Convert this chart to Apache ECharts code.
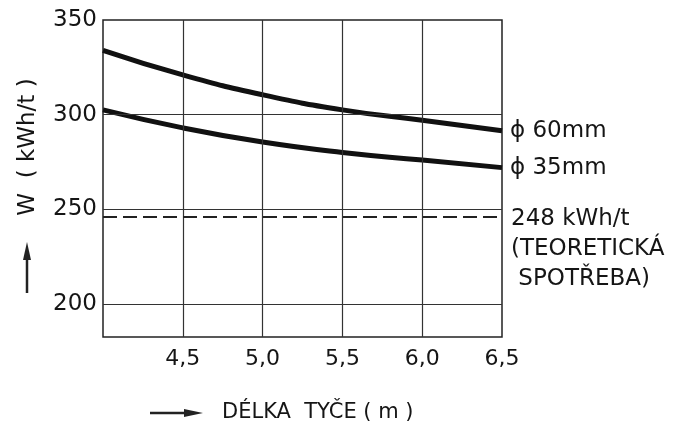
<!DOCTYPE html>
<html>
<head>
<meta charset="utf-8">
<script src="https://cdn.jsdelivr.net/npm/echarts@6/dist/echarts.min.js"></script>
<style>
  html, body { margin: 0; padding: 0; background: #fff; }
  #chart { width: 677px; height: 432px; }
</style>
</head>
<body>
<div id="chart"></div>
<script>
// rod length (m) and energy consumption W (kWh/t)
var lengths = [4.0, 4.5, 5.0, 5.5, 6.0, 6.5];
var w60 = [334, 321, 310.5, 302.5, 297, 291.5];
var w35 = [302.5, 293, 285.5, 280, 276, 272];
var theory = 246;
var gridY = [200, 250, 300];
var gridX = [4.5, 5.0, 5.5, 6.0];
var yLabels = [200, 250, 300, 350];

var font = '"DejaVu Sans", sans-serif';
var ink = '#151515';

function pairs(xs, ys) {
    var out = [];
    for (var i = 0; i < xs.length; i++) out.push([xs[i], ys[i]]);
    return out;
}

var chart = echarts.init(document.getElementById('chart'));
chart.setOption({
    animation: false,
    grid: {
        left: 103, top: 20, right: 175, bottom: 95,
        show: true, borderColor: '#222', borderWidth: 1.5
    },
    xAxis: {
        type: 'value', min: 4, max: 6.5, interval: 0.5,
        axisLine: {show: false}, axisTick: {show: false},
        splitLine: {show: false},
        axisLabel: {
            margin: 11, color: ink, fontFamily: font, fontSize: 22,
            formatter: function (v) {
                if (v < 4.25) return '';
                return v.toFixed(1).replace('.', ',');
            }
        }
    },
    yAxis: {
        type: 'value', min: 182.5, max: 350, interval: 2.5,
        axisLine: {show: false}, axisTick: {show: false},
        splitLine: {show: false},
        axisLabel: {
            margin: 6, color: ink, fontFamily: font, fontSize: 23,
            formatter: function (v) {
                return yLabels.indexOf(v) >= 0 ? String(v) : '';
            }
        }
    },
    series: [
        {
            type: 'line', smooth: true, symbol: 'none',
            lineStyle: {color: '#111', width: 5},
            data: pairs(lengths, w60),
            endLabel: {
                show: true, formatter: 'ϕ 60mm', distance: 8,
                color: ink, fontFamily: font, fontSize: 23
            },
            markLine: {
                silent: true, symbol: 'none', label: {show: false},
                lineStyle: {color: '#333', width: 1.2, type: 'solid'},
                data: gridY.map(function (v) { return {yAxis: v}; })
                    .concat(gridX.map(function (v) { return {xAxis: v}; }))
            }
        },
        {
            type: 'line', smooth: true, symbol: 'none',
            lineStyle: {color: '#111', width: 5},
            data: pairs(lengths, w35),
            endLabel: {
                show: true, formatter: 'ϕ 35mm', distance: 8,
                color: ink, fontFamily: font, fontSize: 23
            },
            markLine: {
                silent: true, symbol: 'none', label: {show: false},
                lineStyle: {color: '#222', width: 2, type: [14, 6]},
                data: [{yAxis: theory}]
            }
        }
    ],
    graphic: [
        {
            type: 'text', left: 511, top: 204,
            style: {
                text: '248 kWh/t\n(TEORETICKÁ\n SPOTŘEBA)', fill: ink,
                font: '23px ' + font, lineHeight: 30
            }
        },
        {
            type: 'text', x: 28, y: 147, rotation: Math.PI / 2,
            style: {
                text: 'W  ( kWh/t )', fill: ink, font: '23px ' + font,
                align: 'center', verticalAlign: 'middle'
            }
        },
        {
            type: 'line', shape: {x1: 27, y1: 293, x2: 27, y2: 252},
            style: {stroke: '#222', lineWidth: 2.5}
        },
        {
            type: 'polygon', shape: {points: [[23, 260], [27, 242], [31, 260]]},
            style: {fill: '#222'}
        },
        {
            type: 'line', shape: {x1: 150, y1: 413, x2: 190, y2: 413},
            style: {stroke: '#222', lineWidth: 2.5}
        },
        {
            type: 'polygon', shape: {points: [[184, 409], [203, 413], [184, 417]]},
            style: {fill: '#222'}
        },
        {
            type: 'text', x: 222, y: 413,
            style: {
                text: 'DÉLKA  TYČE ( m )', fill: ink, font: '21px ' + font,
                verticalAlign: 'middle'
            }
        }
    ]
});
</script>
</body>
</html>
